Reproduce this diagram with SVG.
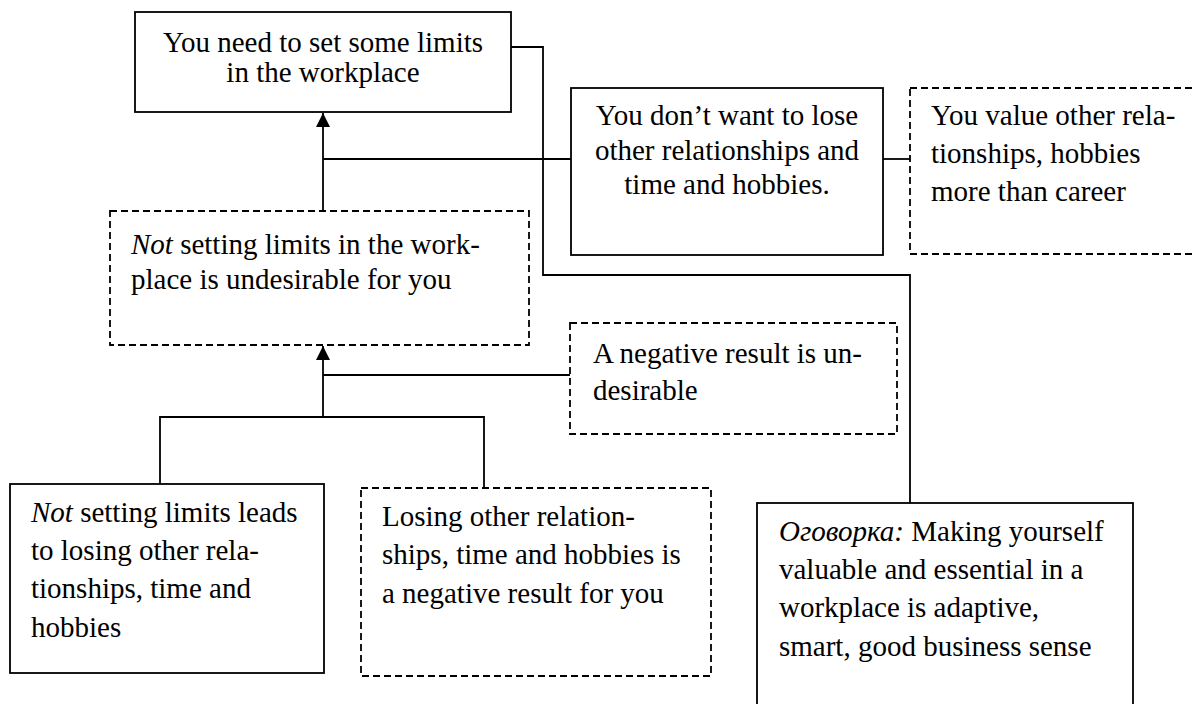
<svg xmlns="http://www.w3.org/2000/svg" width="1193" height="704" viewBox="0 0 1193 704">
<style>
.c{text-anchor:middle}
.i{font-style:italic}
.solid{fill:#fff;stroke:#000;stroke-width:1.8}
.dash{fill:#fff;stroke:#000;stroke-width:1.8;stroke-dasharray:7,4}
.ln{fill:none;stroke:#000;stroke-width:1.8}
</style>
<defs>
<marker id="ah" viewBox="0 0 14 14" refX="14" refY="7" markerWidth="14" markerHeight="14" markerUnits="userSpaceOnUse" orient="auto">
<path d="M0,0 L14,7 L0,14 z" fill="#000"/>
</marker>
</defs>
<g id="connectors">
<polyline class="ln" points="511,47 543,47 543,275 910,275 910,503"/>
<line class="ln" x1="323" y1="211" x2="323" y2="113" marker-end="url(#ah)"/>
<line class="ln" x1="323" y1="159" x2="571" y2="159"/>
<line class="ln" x1="883" y1="159" x2="910" y2="159"/>
<line class="ln" x1="323" y1="417" x2="323" y2="346" marker-end="url(#ah)"/>
<line class="ln" x1="323" y1="375" x2="570" y2="375"/>
<polyline class="ln" points="160,484 160,417 484,417 484,488"/>
</g>
<g id="n1">
<rect class="solid" x="135" y="12" width="376" height="100"/>
<text font-family="Liberation Serif" font-size="29" class="c" x="323" y="52">You need to set some limits</text>
<text font-family="Liberation Serif" font-size="29" class="c" x="323" y="82">in the workplace</text>
</g>
<g id="n2">
<rect class="dash" x="110" y="211" width="419" height="134"/>
<text font-family="Liberation Serif" font-size="29" x="131" y="254"><tspan font-family="Liberation Serif" class="i">Not</tspan> setting limits in the work-</text>
<text font-family="Liberation Serif" font-size="29" x="131" y="289">place is undesirable for you</text>
</g>
<g id="n3">
<rect class="solid" x="571" y="88" width="312" height="167"/>
<text font-family="Liberation Serif" font-size="29" class="c" x="727" y="125">You don’t want to lose</text>
<text font-family="Liberation Serif" font-size="29" class="c" x="727" y="160">other relationships and</text>
<text font-family="Liberation Serif" font-size="29" class="c" x="727" y="194">time and hobbies.</text>
</g>
<g id="n4">
<rect class="dash" x="910" y="88" width="300" height="166"/>
<text font-family="Liberation Serif" font-size="29" x="931" y="125">You value other rela-</text>
<text font-family="Liberation Serif" font-size="29" x="931" y="163">tionships, hobbies</text>
<text font-family="Liberation Serif" font-size="29" x="931" y="201">more than career</text>
</g>
<g id="n5">
<rect class="dash" x="570" y="323" width="327" height="111"/>
<text font-family="Liberation Serif" font-size="29" x="593" y="363">A negative result is un-</text>
<text font-family="Liberation Serif" font-size="29" x="593" y="400">desirable</text>
</g>
<g id="n6">
<rect class="solid" x="10" y="484" width="314" height="189"/>
<text font-family="Liberation Serif" font-size="29" x="31" y="522"><tspan font-family="Liberation Serif" class="i">Not</tspan> setting limits leads</text>
<text font-family="Liberation Serif" font-size="29" x="31" y="560">to losing other rela-</text>
<text font-family="Liberation Serif" font-size="29" x="31" y="598">tionships, time and</text>
<text font-family="Liberation Serif" font-size="29" x="31" y="637">hobbies</text>
</g>
<g id="n7">
<rect class="dash" x="361" y="488" width="350" height="188"/>
<text font-family="Liberation Serif" font-size="29" x="382" y="526">Losing other relation-</text>
<text font-family="Liberation Serif" font-size="29" x="382" y="564">ships, time and hobbies is</text>
<text font-family="Liberation Serif" font-size="29" x="382" y="603">a negative result for you</text>
</g>
<g id="n8">
<rect class="solid" x="757" y="503" width="376" height="210"/>
<text font-family="Liberation Serif" font-size="29" x="779" y="541"><tspan font-family="Liberation Serif" class="i">Оговорка:</tspan> Making yourself</text>
<text font-family="Liberation Serif" font-size="29" x="779" y="579">valuable and essential in a</text>
<text font-family="Liberation Serif" font-size="29" x="779" y="617">workplace is adaptive,</text>
<text font-family="Liberation Serif" font-size="29" x="779" y="656">smart, good business sense</text>
</g>
</svg>
